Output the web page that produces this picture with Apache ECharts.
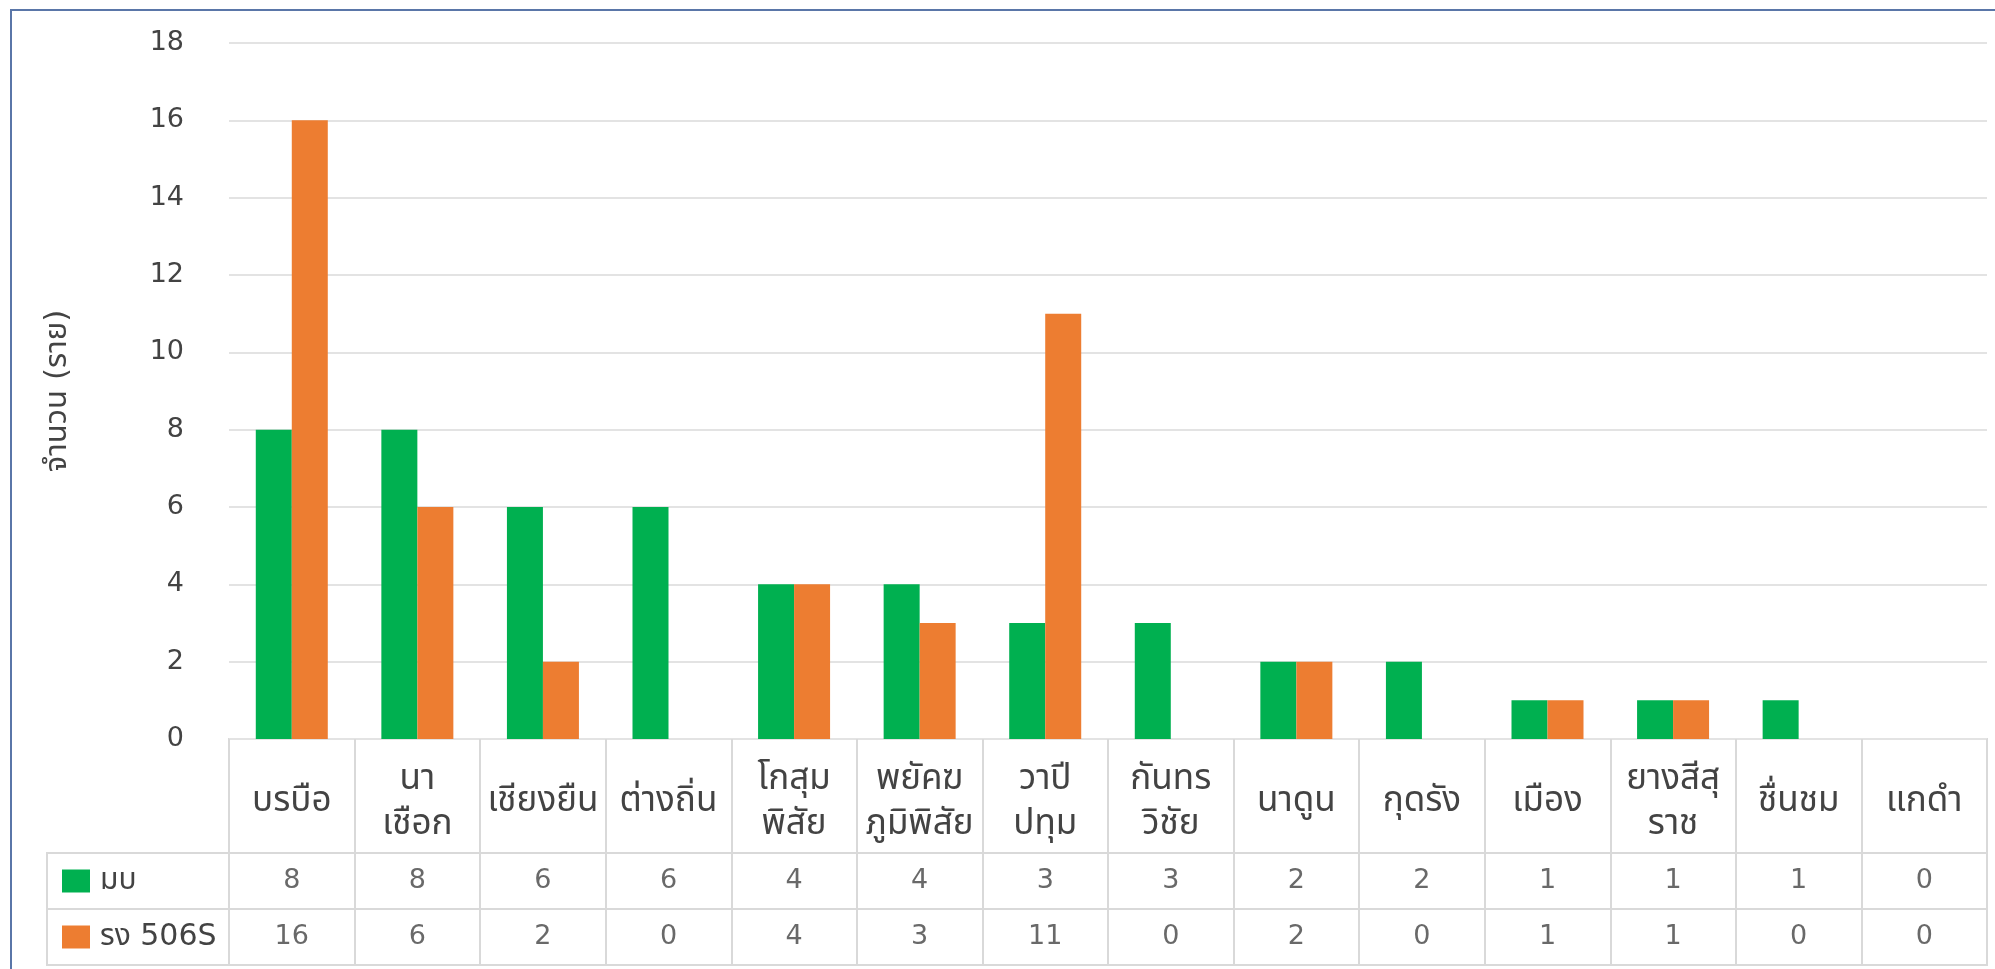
<!DOCTYPE html>
<html>
<head>
<meta charset="utf-8">
<title>จำนวน (ราย)</title>
<script src="https://cdn.jsdelivr.net/npm/echarts@6.0.0/dist/echarts.min.js"></script>
<style>
  html, body { margin: 0; padding: 0; background: #fff; }
  #chart { width: 1995px; height: 969px; }
</style>
</head>
<body>
<div id="chart"></div>
<script>
// ข้อมูล
var categories = ['บรบือ', 'นา\nเชือก', 'เชียงยืน', 'ต่างถิ่น', 'โกสุม\nพิสัย', 'พยัคฆ\nภูมิพิสัย', 'วาปี\nปทุม',
    'กันทร\nวิชัย', 'นาดูน', 'กุดรัง', 'เมือง', 'ยางสีสุ\nราช', 'ชื่นชม', 'แกดำ'];
var seriesNames = ['มบ', 'รง 506S'];
var mbValues = [8, 8, 6, 6, 4, 4, 3, 3, 2, 2, 1, 1, 1, 0];
var r506Values = [16, 6, 2, 0, 4, 3, 11, 0, 2, 0, 1, 1, 0, 0];
var yTicks = [0, 2, 4, 6, 8, 10, 12, 14, 16, 18];
var colors = ['#00b050', '#ed7d31'];

var FONT = '"DejaVu Sans", Tahoma, "Noto Sans Thai", sans-serif';
var TXT = '#434343';
var LINE = '#d9d9d9';

// ตารางค่าใต้กราฟ
var tableCells = [];
[mbValues, r506Values].forEach(function (row, r) {
    row.forEach(function (v, i) {
        tableCells.push([i, r, v]);
    });
});

var hiddenAxis = {
    axisLine: { show: false }, axisTick: { show: false }, axisLabel: { show: false }
};

var myChart = echarts.init(document.getElementById('chart'));
var option = {
    backgroundColor: '#fff',
    textStyle: { fontFamily: FONT },
    animation: false,
    graphic: [{
        type: 'rect',
        shape: { x: 11, y: 10, width: 2100, height: 2000 },
        style: { fill: 'none', stroke: '#5a76a8', lineWidth: 2 },
        silent: true
    }],
    grid: [
        { left: 229, right: 8, top: 43, height: 696 },
        { left: 229, right: 8, top: 739, height: 114, show: true, borderColor: LINE, borderWidth: 2 },
        { left: 229, right: 8, top: 853, height: 112, show: true, borderColor: LINE, borderWidth: 2 },
        { left: 47, width: 182, top: 853, height: 112, show: true, borderColor: LINE, borderWidth: 2 }
    ],
    xAxis: [
        {
            type: 'category', gridIndex: 0, data: categories,
            axisLine: { show: false }, axisTick: { show: false },
            axisLabel: {
                interval: 0, margin: 63, verticalAlign: 'middle',
                fontSize: 35, lineHeight: 45, color: TXT, fontFamily: FONT
            }
        },
        Object.assign({
            type: 'category', gridIndex: 1, data: categories,
            splitLine: { show: true, interval: 0, lineStyle: { color: LINE, width: 2 } }
        }, hiddenAxis),
        Object.assign({
            type: 'category', gridIndex: 2, data: categories,
            splitLine: { show: true, interval: 0, lineStyle: { color: LINE, width: 2 } }
        }, hiddenAxis),
        Object.assign({ type: 'value', gridIndex: 3, splitLine: { show: false } }, hiddenAxis)
    ],
    yAxis: [
        {
            type: 'value', gridIndex: 0, min: yTicks[0], max: yTicks[yTicks.length - 1], interval: 2,
            name: 'จำนวน (ราย)', nameLocation: 'middle', nameRotate: 90, nameGap: 156,
            nameTextStyle: { fontSize: 31, color: TXT, fontFamily: FONT },
            axisLine: { show: false }, axisTick: { show: false },
            axisLabel: { margin: 45, fontSize: 27, color: TXT, fontFamily: FONT },
            splitLine: { lineStyle: { color: '#e3e3e3', width: 2 } }
        },
        Object.assign({ type: 'value', gridIndex: 1, splitLine: { show: false } }, hiddenAxis),
        {
            type: 'category', gridIndex: 2, data: seriesNames, inverse: true,
            axisLine: { show: false }, axisTick: { show: false },
            splitLine: { show: true, interval: 0, lineStyle: { color: LINE, width: 2 } },
            axisLabel: {
                margin: 167, align: 'left', fontSize: 30, color: TXT, fontFamily: FONT,
                formatter: function (v, i) { return '{s' + i + '|}{t|' + v + '}'; },
                rich: {
                    s0: { backgroundColor: colors[0], width: 28, height: 23 },
                    s1: { backgroundColor: colors[1], width: 28, height: 23 },
                    t: { fontSize: 30, color: TXT, fontFamily: FONT, padding: [0, 0, 0, 10] }
                }
            }
        },
        {
            type: 'category', gridIndex: 3, data: seriesNames, inverse: true,
            axisLine: { show: false }, axisTick: { show: false }, axisLabel: { show: false },
            splitLine: { show: true, interval: 0, lineStyle: { color: LINE, width: 2 } }
        }
    ],
    series: [
        {
            name: seriesNames[0], type: 'bar', xAxisIndex: 0, yAxisIndex: 0,
            data: mbValues, barWidth: 36, barGap: '0%',
            itemStyle: { color: colors[0] }
        },
        {
            name: seriesNames[1], type: 'bar', xAxisIndex: 0, yAxisIndex: 0,
            data: r506Values, barWidth: 36, barGap: '0%',
            itemStyle: { color: colors[1] }
        },
        {
            type: 'scatter', xAxisIndex: 2, yAxisIndex: 2,
            data: tableCells, symbolSize: 0, silent: true,
            encode: { x: 0, y: 1 },
            label: {
                show: true, position: 'inside', fontSize: 27, color: TXT, fontFamily: FONT,
                formatter: function (p) { return String(p.data[2]); }
            }
        }
    ]
};
myChart.setOption(option);
</script>
</body>
</html>
